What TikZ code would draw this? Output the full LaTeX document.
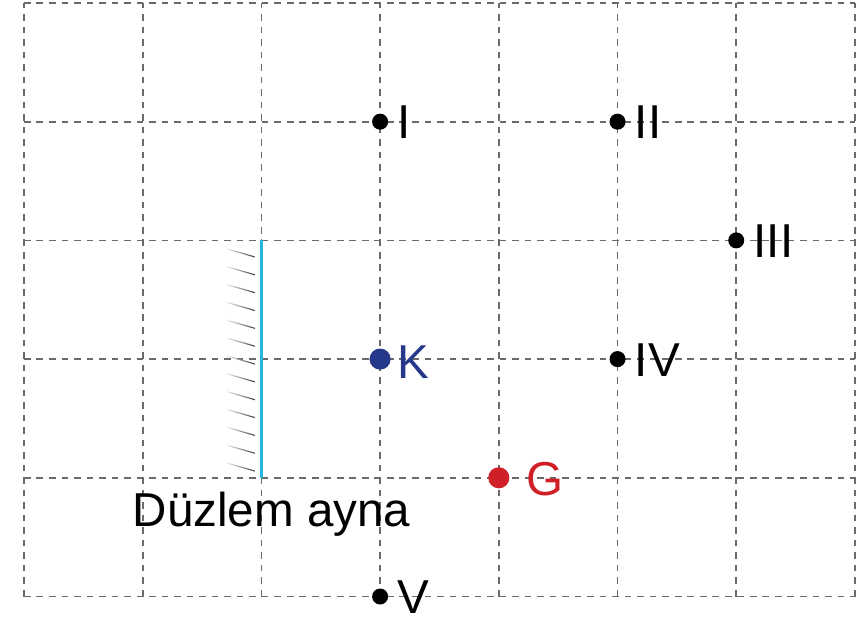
\documentclass[tikz,border=0pt]{standalone}
\usepackage{fontspec}
\setmainfont{Liberation Sans}
\definecolor{gridgray}{HTML}{6A6A6A}
\definecolor{kblue}{HTML}{26388A}
\definecolor{gred}{HTML}{D01F26}
\definecolor{mirrorcyan}{HTML}{2AB4E6}
\tikzset{
  gridline/.style={draw=gridgray, line width=0.4pt, dash pattern=on 1.6pt off 1.4pt},
  bdot/.style={circle, fill=black, inner sep=0pt, minimum size=0.135cm},
  cdot/.style={circle, inner sep=0pt, minimum size=0.178cm},
  lbl/.style={anchor=base west, inner sep=0pt, font=\fontsize{11.4}{13}\selectfont},
  mirrorline/.style={draw=mirrorcyan, line width=0.75pt},
}
\begin{document}
\begin{tikzpicture}
\useasboundingbox (-0.202,-0.181) rectangle (7.093,5.025);
% grid
\foreach \x in {0,...,7} \draw[gridline] (\x,0) -- (\x,5);
\foreach \y in {0,...,5} \draw[gridline] (0,\y) -- (7,\y);
% mirror hatching
\foreach \i in {0,...,12} {
  \pgfmathsetmacro{\yy}{2.928-\i*0.1503}
  \shade[left color=gray!15, right color=black!75]
    (1.71,\yy+0.005) -- (1.946,\yy-0.063) -- (1.946,\yy-0.073) -- (1.71,\yy-0.005) -- cycle;
}
% mirror
\coordinate (mtop) at (2,3);
\coordinate (mbot) at (2,1);
\draw[mirrorline] (mtop) -- (mbot);
\node[lbl, anchor=base] (ayna) at (2.085,0.586) {Düzlem ayna};
% points
\node[bdot] (p1) at (3,4) {};
\node[bdot] (p2) at (5,4) {};
\node[bdot] (p3) at (6,3) {};
\node[bdot] (p4) at (5,2) {};
\node[bdot] (p5) at (3,0) {};
\node[cdot, fill=kblue] (k) at (3,2) {};
\node[cdot, fill=gred] (g) at (4,1) {};
\node[lbl] (l1) at (3.14,3.855) {I};
\node[lbl] (l2) at (5.14,3.855) {II};
\node[lbl] (l3) at (6.14,2.855) {III};
\node[lbl] (l4) at (5.14,1.855) {IV};
\node[lbl] (l5) at (3.14,-0.145) {V};
\node[lbl, text=kblue] (lk) at (3.14,1.84) {K};
\node[lbl, text=gred] (lg) at (4.23,0.855) {G};
\end{tikzpicture}
\end{document}
